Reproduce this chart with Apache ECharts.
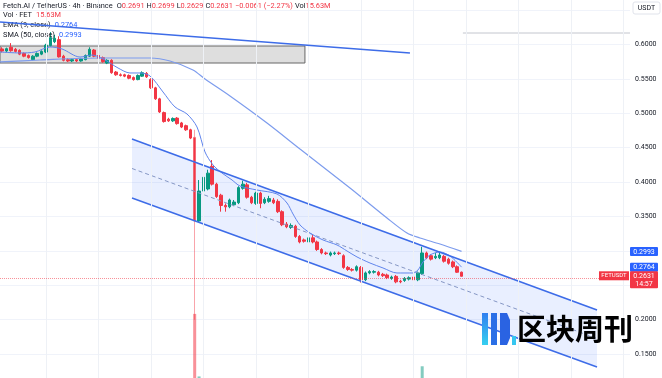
<!DOCTYPE html>
<html lang="en" style="height: 100%">
<head>
<meta charset="utf-8">
<title>FETUSDT 4h</title>
</head>
<body style="height: 100%; margin: 0; background: #fff">
<div id="container" style="height: 100%"></div>

<script type="text/javascript" src="https://cdn.jsdelivr.net/npm/echarts/dist/echarts.min.js"></script>

<script type="text/javascript">

// 4h candles, [open, close, low, high]
var candles = [
  [0.5935, 0.5905, 0.5885, 0.5960], [0.5905, 0.5940, 0.5890, 0.5955], [0.5960, 0.5910, 0.5895, 0.6020],
  [0.5930, 0.5900, 0.5885, 0.5950], [0.5915, 0.5860, 0.5845, 0.5930], [0.5870, 0.5830, 0.5815, 0.5885],
  [0.5840, 0.5810, 0.5795, 0.5855], [0.5780, 0.5830, 0.5765, 0.5845], [0.5830, 0.5870, 0.5815, 0.5885],
  [0.5860, 0.5900, 0.5845, 0.5915], [0.5890, 0.5990, 0.5875, 0.6010], [0.5985, 0.6100, 0.5970, 0.6180],
  [0.6040, 0.6090, 0.6020, 0.6140], [0.6070, 0.5820, 0.5810, 0.6120], [0.5830, 0.5770, 0.5755, 0.5850],
  [0.5780, 0.5760, 0.5745, 0.5800], [0.5760, 0.5780, 0.5745, 0.5795], [0.5780, 0.5760, 0.5745, 0.5795],
  [0.5760, 0.5790, 0.5750, 0.5805], [0.5780, 0.5840, 0.5770, 0.5855], [0.5830, 0.5930, 0.5820, 0.5960],
  [0.5920, 0.5830, 0.5815, 0.5935], [0.5840, 0.5800, 0.5785, 0.5855], [0.5810, 0.5750, 0.5735, 0.5825],
  [0.5730, 0.5770, 0.5715, 0.5785], [0.5770, 0.5590, 0.5575, 0.5785], [0.5600, 0.5560, 0.5545, 0.5615],
  [0.5560, 0.5550, 0.5535, 0.5580], [0.5560, 0.5540, 0.5525, 0.5575], [0.5550, 0.5510, 0.5495, 0.5565],
  [0.5520, 0.5490, 0.5475, 0.5535], [0.5490, 0.5550, 0.5480, 0.5565], [0.5540, 0.5590, 0.5530, 0.5610],
  [0.5580, 0.5530, 0.5515, 0.5600], [0.5490, 0.5370, 0.5355, 0.5510], [0.5370, 0.5210, 0.5195, 0.5385],
  [0.5210, 0.5020, 0.5005, 0.5225], [0.5010, 0.4880, 0.4865, 0.5025], [0.4915, 0.4890, 0.4875, 0.4935],
  [0.4890, 0.4925, 0.4875, 0.4940], [0.4930, 0.4850, 0.4835, 0.4945], [0.4860, 0.4800, 0.4785, 0.4875],
  [0.4820, 0.4760, 0.4745, 0.4835], [0.4760, 0.4640, 0.4625, 0.4775], [0.4650, 0.3435, 0.2000, 0.4760],
  [0.3435, 0.3870, 0.3420, 0.4030], [0.3870, 0.4070, 0.3850, 0.4130], [0.3900, 0.4130, 0.3880, 0.4180],
  [0.4230, 0.3970, 0.3950, 0.4320], [0.3970, 0.3790, 0.3770, 0.3990], [0.3810, 0.3660, 0.3570, 0.3830],
  [0.3660, 0.3640, 0.3570, 0.3690], [0.3640, 0.3740, 0.3620, 0.3760], [0.3670, 0.3710, 0.3650, 0.3740],
  [0.3700, 0.3920, 0.3680, 0.3940], [0.3910, 0.3970, 0.3890, 0.4020], [0.3960, 0.3780, 0.3760, 0.3990],
  [0.3780, 0.3700, 0.3680, 0.3800], [0.3690, 0.3840, 0.3670, 0.3860], [0.3840, 0.3690, 0.3620, 0.3860],
  [0.3700, 0.3750, 0.3680, 0.3780], [0.3720, 0.3760, 0.3700, 0.3800], [0.3740, 0.3700, 0.3680, 0.3770],
  [0.3720, 0.3570, 0.3550, 0.3750], [0.3570, 0.3380, 0.3360, 0.3590], [0.3390, 0.3350, 0.3330, 0.3420],
  [0.3340, 0.3370, 0.3320, 0.3400], [0.3360, 0.3210, 0.3190, 0.3380], [0.3210, 0.3130, 0.3110, 0.3230],
  [0.3160, 0.3140, 0.3120, 0.3180], [0.3130, 0.3190, 0.3110, 0.3210], [0.3190, 0.3130, 0.3110, 0.3230],
  [0.3130, 0.3020, 0.3000, 0.3150], [0.3020, 0.2970, 0.2950, 0.3040], [0.2970, 0.2960, 0.2940, 0.2990],
  [0.2940, 0.2970, 0.2920, 0.2990], [0.2960, 0.2970, 0.2940, 0.2990], [0.2970, 0.2960, 0.2940, 0.2990],
  [0.2930, 0.2760, 0.2740, 0.2950], [0.2760, 0.2730, 0.2710, 0.2780], [0.2730, 0.2720, 0.2700, 0.2750],
  [0.2720, 0.2770, 0.2700, 0.2790], [0.2760, 0.2580, 0.2540, 0.2780], [0.2580, 0.2680, 0.2560, 0.2700],
  [0.2680, 0.2700, 0.2660, 0.2720], [0.2690, 0.2700, 0.2670, 0.2720], [0.2690, 0.2650, 0.2630, 0.2710],
  [0.2660, 0.2640, 0.2620, 0.2680], [0.2650, 0.2610, 0.2590, 0.2670], [0.2600, 0.2620, 0.2580, 0.2640],
  [0.2630, 0.2550, 0.2530, 0.2650], [0.2560, 0.2550, 0.2530, 0.2580], [0.2570, 0.2600, 0.2550, 0.2620],
  [0.2590, 0.2610, 0.2570, 0.2630], [0.2620, 0.2580, 0.2560, 0.2640], [0.2580, 0.2680, 0.2560, 0.2700],
  [0.2670, 0.2970, 0.2650, 0.3060], [0.2970, 0.2900, 0.2880, 0.2990], [0.2930, 0.2880, 0.2860, 0.2950],
  [0.2900, 0.2920, 0.2880, 0.2970], [0.2900, 0.2940, 0.2880, 0.2980], [0.2920, 0.2850, 0.2830, 0.2940],
  [0.2880, 0.2820, 0.2800, 0.2900], [0.2840, 0.2770, 0.2750, 0.2860], [0.2770, 0.2690, 0.2680, 0.2790],
  [0.2691, 0.2631, 0.2629, 0.2699]
];

// volume in millions FET (only the spikes reach into view)
var volumes = [
  18, 15, 22, 16, 20, 17, 15, 19, 16, 18, 24, 30, 22, 28, 19, 14, 13, 12, 14, 16,
  25, 21, 17, 18, 15, 27, 18, 12, 13, 15, 14, 16, 19, 15, 22, 26, 30, 24, 16, 14,
  20, 18, 21, 28, 235, 38, 30, 26, 28, 22, 20, 16, 15, 14, 24, 18, 20, 15, 17, 19,
  13, 12, 14, 20, 26, 14, 12, 22, 18, 12, 14, 15, 20, 16, 12, 11, 10, 12, 24, 15,
  12, 13, 26, 18, 12, 11, 13, 12, 14, 11, 18, 12, 11, 10, 13, 22, 70, 24, 18, 14,
  15, 16, 14, 17, 18, 15.63
];

var slotCount = 144; // candle slots across the pane, right side left empty
var crashIndex = 44; // the long-wick candle

var emaLine = [
  [-0.5, 0.5891], [4.07, 0.5877], [7.5, 0.5891], [10.93, 0.5964], [13.67, 0.5935], [17.79, 0.5818],
  [20.53, 0.5847], [23.5, 0.5775], [26.47, 0.5659], [29.21, 0.5586], [31.5, 0.5586], [33.79, 0.5543],
  [36.76, 0.5310], [39.5, 0.5092], [42.24, 0.4990], [44.53, 0.4801], [46.36, 0.4438], [48.19, 0.4249],
  [50.24, 0.4132], [52.53, 0.4031], [54.36, 0.3943], [58.24, 0.3885], [62.81, 0.3827], [65.1, 0.3696],
  [66.47, 0.3537], [68.07, 0.3377], [70.36, 0.3260], [73.33, 0.3159], [76.53, 0.3086], [78.81, 0.2999],
  [81.1, 0.2912], [84.07, 0.2824], [87.04, 0.2752], [90.24, 0.2679], [93.9, 0.2679], [95.04, 0.2723],
  [96.19, 0.2839], [97.79, 0.2941], [100.07, 0.2984], [102.36, 0.2926], [105, 0.2764]
];

var smaLine = [
  [-0.5, 0.5746], [8.64, 0.5775], [22.36, 0.5804], [33.79, 0.5804], [38.36, 0.5760], [43.61, 0.5630],
  [46.36, 0.5499], [52.07, 0.5252], [60.53, 0.4859], [68.07, 0.4481], [79.5, 0.3914], [87.96, 0.3478],
  [92.53, 0.3260], [95.5, 0.3188], [100.07, 0.3100], [105, 0.2993]
];

// drawings (x in candle slots, y in price)
var channelTop = [[29.67, 0.4627], [135.96, 0.2141]];
var channelBottom = [[29.67, 0.3769], [135.96, 0.1313]];
var channelMid = [[29.67, 0.4198], [135.96, 0.1727]];
var topTrend = [[-0.5, 0.6327], [93.2, 0.5877]];
var zoneBox = [[-3, 0.5978], [69.2, 0.5731]];
var levelRay = [[105.3, 0.6167], [143.5, 0.6167]];
var timeGrid = [10, 22, 34, 46, 58, 70, 82, 94, 106, 118, 130, 142];

var lastClose = 0.2631, lastEma = 0.2764, lastSma = 0.2993;

var UP = '#089981', DOWN = '#f23645', BLUE = '#2962ff', TXT = '#131722';

var dom = document.getElementById('container');
var myChart = echarts.init(dom);

var slots = [];
for (var i = 0; i < slotCount; i++) slots.push(String(i));

var option = {
  animation: false,
  textStyle: { fontFamily: 'Roboto, "Liberation Sans", sans-serif' },
  grid: { left: 0, right: 32, top: -24.3, height: 412.8, containLabel: false, outerBoundsMode: 'none' },
  xAxis: [
    { type: 'category', data: slots, boundaryGap: true, show: false },
    { type: 'value', min: -0.5, max: slotCount - 0.5, show: false }
  ],
  yAxis: [
    {
      type: 'value', position: 'right', min: 0.1, max: 0.7, interval: 0.05,
      axisLine: { show: false }, axisTick: { show: false },
      axisLabel: { fontSize: 7, color: TXT, margin: 5, formatter: function (v) { return v.toFixed(4); } },
      splitLine: { lineStyle: { color: '#f0f3fa', width: 1 } }
    },
    { type: 'value', min: 0, max: 1300, show: false, splitLine: { show: false } }
  ],
  series: [
    {
      type: 'custom', name: 'channel fill', xAxisIndex: 1, yAxisIndex: 0, data: [0], silent: true,
      renderItem: function (params, api) {
        var pts = [
          api.coord(channelTop[0]), api.coord(channelTop[1]),
          api.coord(channelBottom[1]), api.coord(channelBottom[0])
        ];
        return { type: 'polygon', shape: { points: pts }, style: { fill: 'rgba(41,98,255,0.10)' } };
      },
      markLine: {
        silent: true, symbol: 'none', label: { show: false },
        lineStyle: { color: '#eef1f6', type: 'solid', width: 1 },
        data: timeGrid.map(function (v) { return { xAxis: v }; })
      }
    },
    {
      type: 'line', name: 'channel mid', xAxisIndex: 1, data: channelMid, showSymbol: false, silent: true,
      lineStyle: { color: '#8496c4', width: 1, type: [4, 3] }
    },
    {
      type: 'bar', name: 'Vol', xAxisIndex: 0, yAxisIndex: 1, barWidth: 3, silent: true,
      data: volumes.map(function (v, k) {
        var up = candles[k][1] >= candles[k][0];
        return { value: v, itemStyle: { color: up ? 'rgba(8,153,129,0.5)' : 'rgba(242,54,69,0.55)' } };
      })
    },
    {
      type: 'candlestick', name: 'FETUSDT', xAxisIndex: 0, yAxisIndex: 0, barWidth: 3,
      data: candles.map(function (c, k) {
        if (k !== crashIndex) return c;
        return { value: c, itemStyle: { borderColor0: 'rgba(242,54,69,0.45)' } };
      }),
      itemStyle: { color: UP, color0: DOWN, borderColor: UP, borderColor0: DOWN, borderWidth: 1 },
      markLine: {
        silent: true, symbol: 'none', label: { show: false },
        lineStyle: { color: 'rgba(242,54,69,0.55)', type: 'dotted', width: 1 },
        data: [{ yAxis: lastClose }]
      }
    },
    {
      type: 'line', name: 'SMA 50', xAxisIndex: 1, data: smaLine, showSymbol: false, smooth: 0.3, silent: true,
      lineStyle: { color: '#7d9ced', width: 1.2 }
    },
    {
      type: 'line', name: 'EMA 9', xAxisIndex: 1, data: emaLine, showSymbol: false, smooth: 0.3, silent: true,
      lineStyle: { color: '#5f84ec', width: 1 }
    },
    {
      type: 'line', name: 'channel top', xAxisIndex: 1, data: channelTop, showSymbol: false, silent: true,
      lineStyle: { color: '#3d6ce8', width: 1.6 }
    },
    {
      type: 'line', name: 'channel bottom', xAxisIndex: 1, data: channelBottom, showSymbol: false, silent: true,
      lineStyle: { color: '#3d6ce8', width: 1.6 }
    },
    {
      type: 'line', name: 'level', xAxisIndex: 1, data: levelRay, showSymbol: false, silent: true,
      lineStyle: { color: '#c3c6ce', width: 1 }
    },
    {
      type: 'line', name: 'top trend', xAxisIndex: 1, data: topTrend, showSymbol: false, silent: true, z: 5,
      lineStyle: { color: '#3d6ce8', width: 1.5 },
      markArea: {
        silent: true,
        itemStyle: { color: 'rgba(160,160,160,0.35)', borderColor: '#666', borderWidth: 1 },
        data: [[{ coord: zoneBox[0] }, { coord: zoneBox[1] }]]
      }
    }
  ]
};

if (option && typeof option === 'object') {
  myChart.setOption(option);
}

// price tags on the right scale, header legend, watermark
function py(v) { return myChart.convertToPixel({ yAxisIndex: 0 }, v); }
var axisX = 630;
var g = [];
function tag(y, h, fill, lines) {
  g.push({ type: 'rect', z: 100, shape: { x: axisX, y: y, width: 28, height: h, r: 1 }, style: { fill: fill } });
  lines.forEach(function (t, k) {
    g.push({ type: 'text', z: 101, x: axisX + 14, y: y + 5 + k * 8,
      style: { text: t, fill: '#fff', fontSize: 7, align: 'center', verticalAlign: 'middle', fontFamily: 'Roboto' } });
  });
}
tag(py(lastSma) - 4.5, 9, BLUE, [lastSma.toFixed(4)]);
tag(py(lastEma) - 4.5, 9, BLUE, [lastEma.toFixed(4)]);
tag(py(lastClose) - 5, 17, DOWN, [lastClose.toFixed(4), '14:57']);
g.push({ type: 'rect', z: 100, shape: { x: 599, y: py(lastClose) - 5, width: 30, height: 9 }, style: { fill: DOWN } });
g.push({ type: 'text', z: 101, x: 614, y: py(lastClose) - 0.5,
  style: { text: 'FETUSDT', fill: '#fff', fontSize: 6, align: 'center', verticalAlign: 'middle', fontFamily: 'Roboto' } });

g.push({ type: 'rect', z: 100, shape: { x: 633, y: 2, width: 27, height: 12, r: 2 },
  style: { fill: '#fff', stroke: '#e0e3eb', lineWidth: 1 } });
g.push({ type: 'text', z: 101, x: 646.5, y: 8,
  style: { text: 'USDT', fill: TXT, fontSize: 7, align: 'center', verticalAlign: 'middle', fontFamily: 'Roboto' } });

var rich = {
  t: { fill: TXT, fontSize: 7.4, fontFamily: 'Roboto' },
  r: { fill: DOWN, fontSize: 7.4, fontFamily: 'Roboto' },
  b: { fill: BLUE, fontSize: 7.4, fontFamily: 'Roboto' }
};
var header = [
  '{t|Fetch.AI / TetherUS · 4h · Binance}  {t|O}{r|0.2691} {t|H}{r|0.2699} {t|L}{r|0.2629} {t|C}{r|0.2631} {r|−0.0061 (−2.27%)} {t|Vol}{r|15.63M}',
  '{t|Vol · FET}  {r|15.63M}',
  '{t|EMA (9, close)}  {b|' + lastEma.toFixed(4) + '}',
  '{t|SMA (50, close)}  {b|' + lastSma.toFixed(4) + '}'
];
header.forEach(function (s, k) {
  g.push({ type: 'text', z: 4, x: 3, y: 6 + k * 9.6,
    style: { text: s, rich: rich, verticalAlign: 'middle', fontSize: 7.4 } });
});

// watermark
g.push({ type: 'rect', z: 110, shape: { x: 482, y: 313, width: 6, height: 32 },
  style: { fill: new echarts.graphic.LinearGradient(0, 0, 0, 1, [{ offset: 0, color: '#2f7ef0' }, { offset: 1, color: '#36d0f0' }]) } });
g.push({ type: 'rect', z: 110, shape: { x: 491, y: 313, width: 6, height: 32 }, style: { fill: '#2a6fe6' } });
g.push({ type: 'polygon', z: 110, shape: { points: [[500, 313], [507, 313], [510, 320], [510, 338], [507, 345], [500, 345]] },
  style: { fill: '#2a63e2' } });
g.push({ type: 'rect', z: 110, shape: { x: 512, y: 336, width: 4, height: 9 }, style: { fill: '#36c6f0' } });
g.push({ type: 'text', z: 110, x: 517, y: 329,
  style: { text: '区块周刊', fontSize: 29, fontWeight: 'bold', verticalAlign: 'middle',
    fontFamily: '"Noto Sans CJK SC"',
    fill: new echarts.graphic.LinearGradient(0, 0, 0, 1, [{ offset: 0, color: '#3b86f0' }, { offset: 1, color: '#2456dc' }]) } });

myChart.setOption({ graphic: g });

window.addEventListener('resize', myChart.resize);
</script>
</body>
</html>
